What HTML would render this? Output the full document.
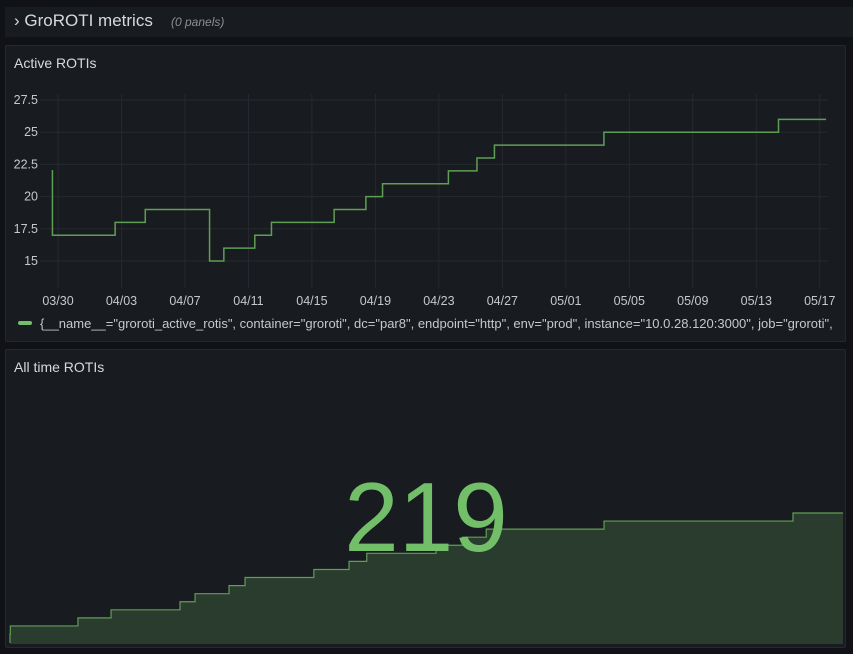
<!DOCTYPE html>
<html><head><meta charset="utf-8"><style>
body{margin:0;width:853px;height:654px;background:#111217;font-family:"Liberation Sans",sans-serif;overflow:hidden;position:relative}
.row{position:absolute;left:5px;top:7px;width:848px;height:30px;background:#181b1f}
.panel{position:absolute;left:5px;width:839px;background:#181b1f;border:1px solid #25282d;border-radius:2px}
.title{position:absolute;left:8px;font-size:14px;color:#d8d9da}
svg{position:absolute;left:0;top:0}
</style></head><body>
<div class="row">
<span style="position:absolute;left:9px;top:4px;font-size:17px;color:#d8d9da">› GroROTI metrics</span>
<span style="position:absolute;left:166px;top:8px;font-size:12px;font-style:italic;color:#8e8e8e">(0 panels)</span>
</div>
<div class="panel" style="top:45px;height:295px">
<div class="title" style="top:9px">Active ROTIs</div></div>
<div class="panel" style="top:349px;height:297px">
<div class="title" style="top:9px">All time ROTIs</div></div>
<svg id="c" width="853" height="654"></svg>
<script>
const activeDays=[-0.4,-0.35,3.6,5.5,9.55,10.45,12.4,13.45,17.4,19.4,20.45,24.6,26.4,27.5,34.4,45.4,48.4];
const activeVals=[22,17,18,19,15,16,17,18,19,20,21,22,23,24,25,26,26];
const yTicks=[15,17.5,20,22.5,25,27.5];
const xTickLabels=["03/30","04/03","04/07","04/11","04/15","04/19","04/23","04/27","05/01","05/05","05/09","05/13","05/17"];
const totalDays=[-0.4,-0.38,3.58,5.52,9.56,10.44,12.43,13.37,17.4,19.46,20.5,24.56,26.1,27.5,34.4,45.47,48.4];
const totalVals=[204,205,206,207,208,209,210,211,212,213,214,215,216,217,218,219,219];
const NS="http://www.w3.org/2000/svg";
const svg=document.getElementById('c');
function mk(t,a){const e=document.createElementNS(NS,t);for(const k in a)e.setAttribute(k,a[k]);svg.appendChild(e);return e;}
const x1=d=>58+d*15.87;
const y1=v=>261-(v-15)*12.88;
yTicks.forEach(v=>{
 const l=mk('line',{x1:40,x2:828,y1:y1(v),y2:y1(v),stroke:'#262a2f'});
 
 const t=mk('text',{x:38,y:y1(v)+4,'text-anchor':'end',fill:'#c7c8ca','font-size':12.5});
 t.textContent=v;
});
xTickLabels.forEach((s,i)=>{
 const x=x1(i*4);
 const l=mk('line',{x1:x,x2:x,y1:94,y2:288,stroke:'#262a2f'});
 
 const t=mk('text',{x:x,y:305,'text-anchor':'middle',fill:'#c7c8ca','font-size':12.5});
 t.textContent=s;
});
function stepPath(ds,vs,fx,fy){let p='M'+fx(ds[0])+','+fy(vs[0]);for(let i=1;i<ds.length;i++){p+=' L'+fx(ds[i])+','+fy(vs[i-1])+' L'+fx(ds[i])+','+fy(vs[i]);}return p;}
const ap=mk('path',{d:stepPath(activeDays,activeVals,x1,y1),fill:'none',stroke:'#5f9e55','stroke-width':1.5});

const lg=mk('rect',{x:18,y:321,width:14,height:4,rx:2,fill:'#73bf69'});

const lt=mk('text',{x:40,y:328,fill:'#c7c8ca','font-size':13});
lt.textContent='{__name__="groroti_active_rotis", container="groroti", dc="par8", endpoint="http", env="prod", instance="10.0.28.120:3000", job="groroti",';

const x2=d=>10+(d+0.4)/48.8*833;
const y2=v=>634-(v-204)*121/15;
const sp='M'+x2(-0.4)+',643 '+stepPath(totalDays,totalVals,x2,y2).replace('M','L');
const fa=mk('path',{d:sp+' L'+x2(48.4)+',644 L'+x2(-0.4)+',644 Z',fill:'#2a3c2e'});

const sl=mk('path',{d:sp,fill:'none',stroke:'#5f9e55','stroke-width':1.2});

const bn=mk('text',{x:426,y:551,'text-anchor':'middle',fill:'#73bf69','font-size':98});
bn.textContent=totalVals[totalVals.length-1];

</script>
</body></html>
